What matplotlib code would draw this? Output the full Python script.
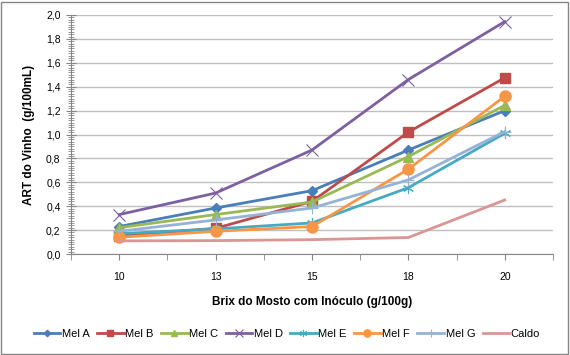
import numpy as np
import matplotlib
matplotlib.use('Agg')
import matplotlib.pyplot as plt
from matplotlib.patches import Rectangle

plt.rcParams['font.family'] = ['Liberation Sans', 'DejaVu Sans']

brix   = ['10', '13', '15', '18', '20']
mel_a  = [0.23, 0.385, 0.53, 0.87, 1.20]
mel_b  = [0.15, 0.215, 0.44, 1.02, 1.475]
mel_c  = [0.22, 0.33, 0.435, 0.815, 1.245]
mel_d  = [0.33, 0.51, 0.87, 1.46, 1.945]
mel_e  = [0.17, 0.21, 0.26, 0.555, 1.01]
mel_f  = [0.14, 0.19, 0.23, 0.71, 1.32]
mel_g  = [0.19, 0.285, 0.385, 0.62, 1.025]
caldo  = [0.11, 0.112, 0.12, 0.138, 0.452]

series = [
    ('Mel A', mel_a, '#4A7EBB', 'D', 5, 1.0),
    ('Mel B', mel_b, '#BE4B48', 's', 7, 1.0),
    ('Mel C', mel_c, '#98B954', '^', 7, 1.0),
    ('Mel D', mel_d, '#7D60A0', 'x', 8, 0.8),
    ('Mel E', mel_e, '#46AAC5', (6, 2, 0), 8, 0.8),
    ('Mel F', mel_f, '#F79646', 'o', 8, 1.0),
    ('Mel G', mel_g, '#95B3D7', '+', 8, 0.8),
    ('Caldo', caldo, '#D99694', None, 0, 1.0),
]

fig = plt.figure(figsize=(5.7, 3.55), dpi=100)
fig.patches.append(Rectangle((0.002, 0.003), 0.995, 0.992, transform=fig.transFigure,
                             fill=False, edgecolor='#868686', lw=1))
ax = fig.add_axes([71/570, 1 - 254/355, (553 - 71)/570, (254 - 15)/355])

x = np.arange(1, len(brix) + 1)
for name, vals, col, mk, ms, mew in series:
    ax.plot(x, vals, color=col, lw=2, marker=mk, ms=ms, mew=mew,
            mec=col, mfc=col, label=name)

ax.set_xlim(0.5, 5.5)
ax.set_ylim(0, 2.0)
ax.set_xticks(x)
ax.set_xticklabels(brix)
ax.set_xticks(np.arange(0.5, 5.6, 1.0), minor=True)
ax.set_yticks(np.arange(0, 2.01, 0.2))
ax.set_yticklabels([f'{v:.1f}'.replace('.', ',') for v in np.arange(0, 2.01, 0.2)])
ax.set_yticks(np.arange(0, 2.001, 0.02), minor=True)

ax.tick_params(axis='x', which='both', direction='out', length=4, color='#868686',
               labelsize=7.5, pad=9)
ax.tick_params(axis='y', which='major', direction='inout', length=7, color='#868686',
               labelsize=7.5, pad=4)
ax.tick_params(axis='y', which='minor', direction='inout', length=4, color='#868686')

ax.grid(axis='y', which='major', color='#BFBFBF', lw=1)
ax.set_axisbelow(True)
for s in ['top', 'right']:
    ax.spines[s].set_visible(False)
for s in ['left', 'bottom']:
    ax.spines[s].set_color('#868686')

ax.set_ylabel('ART do Vinho  (g/100mL)', fontsize=8.5, fontweight='bold', labelpad=8)
ax.set_xlabel('Brix do Mosto com Inóculo (g/100g)', fontsize=8.5, fontweight='bold', labelpad=10)

ax.legend(loc='center', bbox_to_anchor=(0.448, -0.335), ncol=8, frameon=False,
          fontsize=8, handlelength=2.4, handletextpad=0.15, columnspacing=0.65,
          markerscale=0.65, borderpad=0)

fig.savefig('out.png', dpi=100)
